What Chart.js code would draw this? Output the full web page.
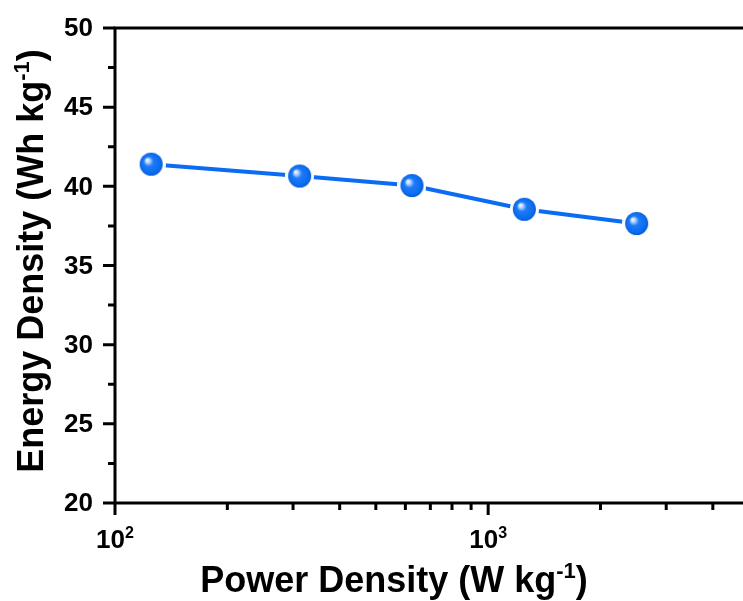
<!DOCTYPE html>
<html lang="en">
<head>
<meta charset="UTF-8">
<title>Energy vs Power Density</title>
<script src="https://cdn.jsdelivr.net/npm/chart.js"></script>
<style>
  html, body { margin: 0; padding: 0; background: #fff; overflow: hidden; width: 743px; height: 601px; }
  canvas { display: block; }
</style>
</head>
<body>
<canvas id="chart" width="790" height="601"></canvas>
<script>
  // data
  const powerDensity = [125, 312.5, 625, 1250, 2500];
  const energyDensity = [41.4, 40.65, 40.05, 38.55, 37.65];

  const xMajorTicks = [100, 1000];
  const xMajorLabels = [['10', '2'], ['10', '3']];
  const xMinorTicks = [200, 300, 400, 500, 600, 700, 800, 900, 2000, 3000, 4000];
  const yMajorTicks = [20, 25, 30, 35, 40, 45, 50];
  const yMinorTicks = [22.5, 27.5, 32.5, 37.5, 42.5, 47.5];

  const xTitle = ['Power Density (W kg', '-1', ')'];
  const yTitle = ['Energy Density (Wh kg', '-1', ')'];

  const FONT = '"Liberation Sans", Arial, sans-serif';
  const BLUE = '#0a6cf2';

  // shiny ball marker, with a white ring so the line stops short of it
  function makeBall(r) {
    const pad = 3;
    const s = (r + pad) * 2;
    const c = document.createElement('canvas');
    c.width = c.height = s;
    const g = c.getContext('2d');
    g.fillStyle = '#fff';
    g.beginPath(); g.arc(s / 2, s / 2, r + pad, 0, Math.PI * 2); g.fill();
    const grad = g.createRadialGradient(s / 2 - r * 0.38, s / 2 - r * 0.38, 0, s / 2, s / 2, r);
    grad.addColorStop(0, '#ffffff');
    grad.addColorStop(0.18, '#bcd8ff');
    grad.addColorStop(0.42, '#1f7bf7');
    grad.addColorStop(0.85, '#0a6cf2');
    grad.addColorStop(1, '#0557d0');
    g.fillStyle = grad;
    g.beginPath(); g.arc(s / 2, s / 2, r, 0, Math.PI * 2); g.fill();
    return c;
  }

  // text with one superscript part: [base, sup, tail]
  const SUP = 0.62;
  function richWidth(ctx, parts, size) {
    ctx.font = 'bold ' + size + 'px ' + FONT;
    let w = ctx.measureText(parts[0]).width + (parts[2] ? ctx.measureText(parts[2]).width : 0);
    ctx.font = 'bold ' + Math.round(size * SUP) + 'px ' + FONT;
    return w + ctx.measureText(parts[1]).width;
  }
  function drawRich(ctx, parts, x, y, size) {
    // x is the left edge, y the baseline
    ctx.textAlign = 'left';
    ctx.textBaseline = 'alphabetic';
    ctx.font = 'bold ' + size + 'px ' + FONT;
    ctx.fillText(parts[0], x, y);
    x += ctx.measureText(parts[0]).width;
    ctx.font = 'bold ' + Math.round(size * SUP) + 'px ' + FONT;
    ctx.fillText(parts[1], x, y - size * 0.4);
    x += ctx.measureText(parts[1]).width;
    if (parts[2]) {
      ctx.font = 'bold ' + size + 'px ' + FONT;
      ctx.fillText(parts[2], x, y);
    }
  }

  const axesPlugin = {
    id: 'originAxes',
    afterDatasetsDraw(chart) {
      const { ctx, chartArea: a, scales: { x, y } } = chart;
      ctx.save();
      ctx.strokeStyle = '#000';
      ctx.fillStyle = '#000';
      ctx.lineWidth = 3;
      ctx.strokeRect(a.left, a.top, a.right - a.left, a.bottom - a.top);

      ctx.lineCap = 'butt';
      ctx.beginPath();
      yMajorTicks.forEach(v => {
        const py = y.getPixelForValue(v);
        ctx.moveTo(a.left - 12, py); ctx.lineTo(a.left, py);
      });
      yMinorTicks.forEach(v => {
        const py = y.getPixelForValue(v);
        ctx.moveTo(a.left - 7, py); ctx.lineTo(a.left, py);
      });
      xMajorTicks.forEach(v => {
        const px = x.getPixelForValue(v);
        ctx.moveTo(px, a.bottom); ctx.lineTo(px, a.bottom + 12);
      });
      xMinorTicks.forEach(v => {
        const px = x.getPixelForValue(v);
        ctx.moveTo(px, a.bottom); ctx.lineTo(px, a.bottom + 7);
      });
      ctx.stroke();

      // y tick labels
      ctx.font = 'bold 26px ' + FONT;
      ctx.textAlign = 'right';
      ctx.textBaseline = 'middle';
      yMajorTicks.forEach(v => {
        ctx.fillText(String(v), a.left - 22, y.getPixelForValue(v) + 1);
      });

      // x tick labels
      xMajorLabels.forEach((lab, i) => {
        const w = richWidth(ctx, lab, 26);
        drawRich(ctx, lab, x.getPixelForValue(xMajorTicks[i]) - w / 2, a.bottom + 45, 26);
      });

      // axis titles
      const tw = richWidth(ctx, xTitle, 36);
      drawRich(ctx, xTitle, 394 - tw / 2, 592, 36);

      ctx.translate(43, 261);
      ctx.rotate(-Math.PI / 2);
      const yw = richWidth(ctx, yTitle, 36);
      drawRich(ctx, yTitle, -yw / 2, 0, 36);
      ctx.restore();
    }
  };

  new Chart(document.getElementById('chart'), {
    type: 'line',
    data: {
      datasets: [{
        data: powerDensity.map((p, i) => ({ x: p, y: energyDensity[i] })),
        borderColor: BLUE,
        borderWidth: 4,
        pointStyle: makeBall(11.5),
        pointRadius: 11,
        tension: 0
      }]
    },
    options: {
      responsive: false,
      animation: false,
      layout: { padding: { top: 28, right: 41, left: 0, bottom: 0 } },
      plugins: { legend: { display: false }, tooltip: { enabled: false } },
      scales: {
        x: {
          type: 'logarithmic', min: 100, max: 5000,
          ticks: { display: false }, grid: { display: false }, border: { display: false },
          afterFit(s) { s.height = 98; }
        },
        y: {
          min: 20, max: 50,
          ticks: { display: false }, grid: { display: false }, border: { display: false },
          afterFit(s) { s.width = 115; }
        }
      }
    },
    plugins: [axesPlugin]
  });
</script>
</body>
</html>
